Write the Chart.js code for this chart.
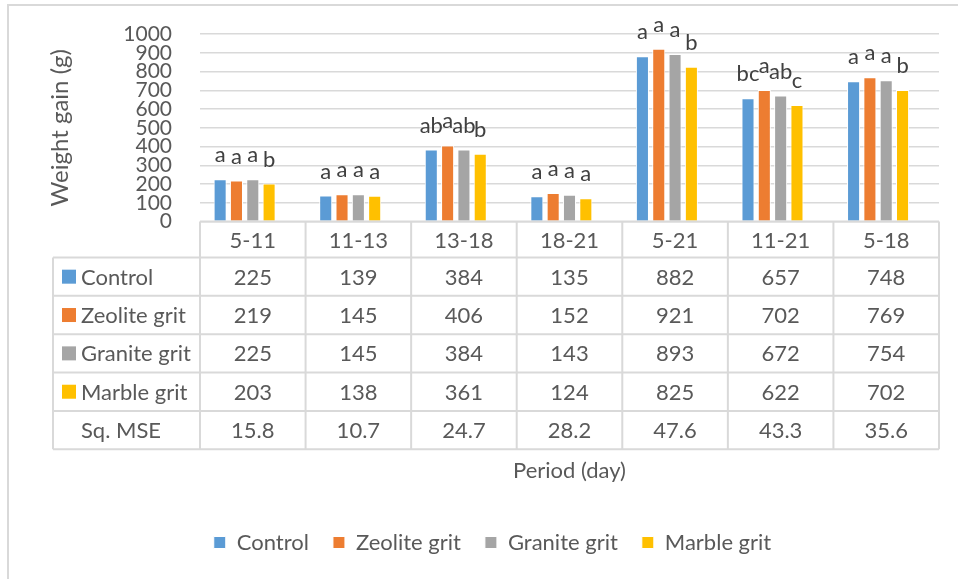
<!DOCTYPE html>
<html>
<head>
<meta charset="utf-8">
<script src="https://cdn.jsdelivr.net/npm/chart.js@4.4.1/dist/chart.umd.min.js"></script>
<style>
  html, body { margin: 0; padding: 0; background: #fff; }
</style>
</head>
<body>
<canvas id="graficoGanancia" width="958" height="579"></canvas>
<script>
const periodos = ['5-11', '11-13', '13-18', '18-21', '5-21', '11-21', '5-18'];
const control = [225, 139, 384, 135, 882, 657, 748];
const zeolita = [219, 145, 406, 152, 921, 702, 769];
const granito = [225, 145, 384, 143, 893, 672, 754];
const marmol = [203, 138, 361, 124, 825, 622, 702];
const mse = [15.8, 10.7, 24.7, 28.2, 47.6, 43.3, 35.6];
const ticksY = [0, 100, 200, 300, 400, 500, 600, 700, 800, 900, 1000];

// letras de significancia sobre cada barra
const letrasControl = ['a', 'a', 'ab', 'a', 'a', 'bc', 'a'];
const letrasZeolita = ['a', 'a', 'a', 'a', 'a', 'a', 'a'];
const letrasGranito = ['a', 'a', 'ab', 'a', 'a', 'ab', 'a'];
const letrasMarmol = ['b', 'a', 'b', 'a', 'b', 'c', 'b'];

const colores = ['#5B9BD5', '#ED7D31', '#A5A5A5', '#FFC000'];
const gris = '#595959';
const linea = '#d9d9d9';
const fuente = 'Lato, "Noto Sans", sans-serif';

const letras = [letrasControl, letrasZeolita, letrasGranito, letrasMarmol];

const tablaPlugin = {
  id: 'tabla',
  beforeDraw(chart) {
    const ctx = chart.ctx;
    ctx.save();
    ctx.fillStyle = '#fff';
    ctx.fillRect(0, 0, chart.width, chart.height);
    ctx.strokeStyle = linea;
    ctx.lineWidth = 2;
    ctx.strokeRect(8, 5, 980, 600);
    ctx.restore();
  },
  afterDatasetsDraw(chart) {
    const ctx = chart.ctx;
    ctx.save();
    ctx.font = '22px ' + fuente;
    ctx.fillStyle = '#404040';
    ctx.textAlign = 'center';
    ctx.textBaseline = 'middle';
    letras.forEach((fila, d) => {
      chart.getDatasetMeta(d).data.forEach((bar, i) => {
        ctx.fillText(fila[i], bar.x, bar.y - 24);
      });
    });
    ctx.restore();
  },
  afterDraw(chart) {
    const { ctx, chartArea } = chart;
    const ancho = chartArea.width / periodos.length;
    const arriba = chartArea.bottom;
    const altoCab = 36, altoFila = 38.35;
    const izq = 53;
    const filas = chart.data.datasets.map(ds => ({ label: ds.label, color: ds.clave, vals: ds.data }));
    const abajo = arriba + altoCab + altoFila * filas.length;

    ctx.save();
    ctx.strokeStyle = linea;
    ctx.lineWidth = 2;
    ctx.beginPath();
    ctx.moveTo(chartArea.left, arriba);
    ctx.lineTo(chartArea.right, arriba);
    for (let r = 0; r <= filas.length; r++) {
      const y = arriba + altoCab + r * altoFila;
      ctx.moveTo(izq, y);
      ctx.lineTo(chartArea.right, y);
    }
    ctx.moveTo(izq, arriba + altoCab);
    ctx.lineTo(izq, abajo);
    for (let c = 0; c <= periodos.length; c++) {
      const x = chartArea.left + c * ancho;
      ctx.moveTo(x, arriba);
      ctx.lineTo(x, abajo);
    }
    ctx.stroke();

    ctx.font = '22px ' + fuente;
    ctx.fillStyle = gris;
    ctx.textBaseline = 'middle';
    ctx.textAlign = 'center';
    periodos.forEach((p, i) => {
      ctx.fillText(p, chartArea.left + (i + 0.5) * ancho, arriba + altoCab / 2 + 1);
    });
    filas.forEach((f, r) => {
      const yc = arriba + altoCab + r * altoFila + altoFila / 2 + 1;
      if (f.color) {
        ctx.fillStyle = f.color;
        ctx.fillRect(62, yc - 8, 14, 14);
      }
      ctx.fillStyle = gris;
      ctx.textAlign = 'left';
      ctx.fillText(f.label, 81, yc);
      ctx.textAlign = 'center';
      f.vals.forEach((v, i) => {
        ctx.fillText(String(v), chartArea.left + (i + 0.5) * ancho, yc);
      });
    });
    ctx.restore();
  }
};

const serie = (label, data, color) => ({
  label, data,
  clave: color,
  backgroundColor: color,
  borderColor: color ? '#ffffff' : 'transparent',
  borderWidth: 1,
  categoryPercentage: 0.773,
  barPercentage: 0.8
});

new Chart(document.getElementById('graficoGanancia'), {
  type: 'bar',
  data: {
    labels: periodos,
    datasets: [
      serie('Control', control, colores[0]),
      serie('Zeolite grit', zeolita, colores[1]),
      serie('Granite grit', granito, colores[2]),
      serie('Marble grit', marmol, colores[3]),
      // serie sin relleno, solo aparece en la tabla
      Object.assign(serie('Sq. MSE', mse, null), { backgroundColor: 'transparent' })
    ]
  },
  options: {
    responsive: false,
    animation: false,
    layout: { padding: { left: 46, right: 19, top: 34, bottom: 15.5 } },
    plugins: {
      tooltip: { enabled: false },
      legend: {
        position: 'bottom',
        labels: {
          boxWidth: 12, boxHeight: 12, padding: 24,
          color: gris,
          font: { family: fuente, size: 22 },
          filter: item => item.datasetIndex < 4
        }
      }
    },
    scales: {
      x: {
        grid: { display: false },
        border: { display: false },
        ticks: { display: false },
        title: {
          display: true, text: 'Period (day)', color: gris,
          font: { family: fuente, size: 22 },
          padding: { top: 0, bottom: 23 }
        },
        afterFit: scale => { scale.height = 286; }
      },
      y: {
        min: 0, max: 1000,
        afterBuildTicks: scale => { scale.ticks = ticksY.map(v => ({ value: v })); },
        grid: { color: linea, lineWidth: 1.5, drawTicks: false },
        border: { display: false },
        ticks: {
          autoSkip: false, padding: 28, color: gris,
          font: { family: fuente, size: 21 },
          callback: v => String(v)
        },
        title: {
          display: true, text: 'Weight gain (g)', color: gris,
          font: { family: fuente, size: 24 },
          padding: { top: 0, bottom: 0 }
        },
        afterFit: scale => {
          scale.width = 154;
          scale.paddingTop = 12;
          scale.paddingBottom = 12;
        }
      }
    }
  },
  plugins: [tablaPlugin]
});
</script>
</body>
</html>
